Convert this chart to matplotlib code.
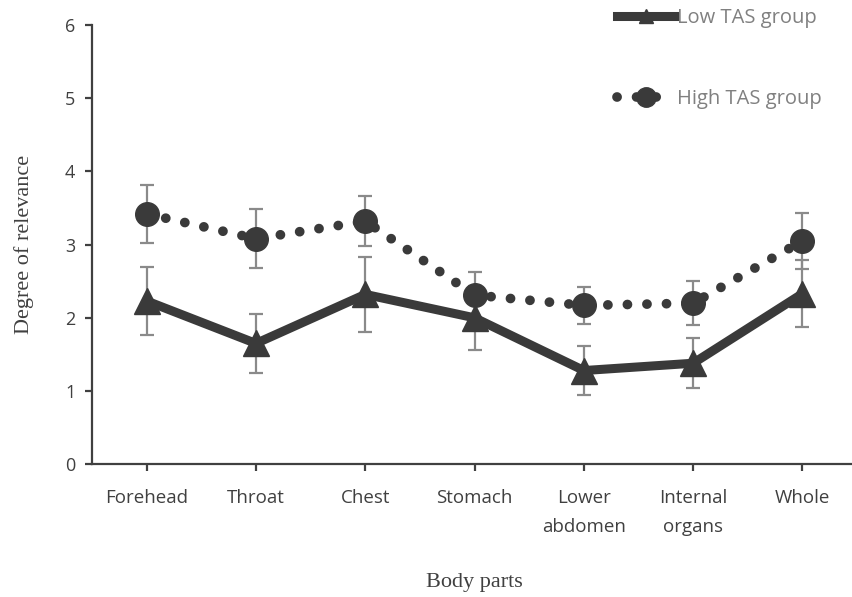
import matplotlib
matplotlib.use("Agg")
import matplotlib.pyplot as plt
from matplotlib.lines import Line2D

categories = ["Forehead", "Throat", "Chest", "Stomach", "Lower\nabdomen", "Internal\norgans", "Whole"]
low_mean = [2.23, 1.65, 2.32, 2.00, 1.28, 1.38, 2.33]
low_err = [0.47, 0.40, 0.51, 0.44, 0.34, 0.34, 0.46]
high_mean = [3.42, 3.08, 3.32, 2.31, 2.17, 2.20, 3.05]
high_err = [0.40, 0.40, 0.34, 0.32, 0.25, 0.30, 0.38]
yticks = [0, 1, 2, 3, 4, 5, 6]

dark = "#3a3a3a"
grey = "#8a8a8a"
txt = "#404040"
tick_font = "Open Sans"

fig = plt.figure(figsize=(8.52, 5.97), dpi=100)
ax = fig.add_axes([0.108, 0.2223, 0.898, 0.736])

x = list(range(len(categories)))

ax.errorbar(x, high_mean, yerr=high_err, fmt="none", ecolor=grey, elinewidth=1.6,
            capsize=5, capthick=1.6, zorder=2)
ax.errorbar(x, low_mean, yerr=low_err, fmt="none", ecolor=grey, elinewidth=1.6,
            capsize=5, capthick=1.6, zorder=2)

ax.plot(x, high_mean, color=dark, lw=7, linestyle=(0, (0.01, 2.0)),
        dash_capstyle="round", zorder=3)
ax.plot(x, high_mean, linestyle="none", marker="o", markersize=17, color=dark, zorder=4)
ax.plot(x, low_mean, color=dark, lw=6.5, solid_capstyle="butt", zorder=3)
ax.plot(x, low_mean, linestyle="none", marker="^", markersize=18.5, color=dark, zorder=4)

ax.set_xlim(-0.5, len(categories) - 0.5)
ax.set_ylim(0, 6)
ax.set_yticks(yticks)
ax.set_yticklabels([str(v) for v in yticks], fontsize=13, color=txt, family=tick_font)
ax.set_xticks(x)
ax.set_xticklabels(categories, fontsize=13.5, color=txt, family=tick_font, linespacing=1.75)

for s in ["top", "right"]:
    ax.spines[s].set_visible(False)
for s in ["left", "bottom"]:
    ax.spines[s].set_color(txt)
    ax.spines[s].set_linewidth(1.6)
ax.tick_params(axis="both", direction="out", length=5, width=1.6, color=txt)
ax.tick_params(axis="x", pad=13)
ax.tick_params(axis="y", pad=7)

ax.set_ylabel("Degree of relevance", family="Liberation Serif", fontsize=16, color=txt,
              labelpad=22)
ax.set_xlabel("Body parts", family="Liberation Serif", fontsize=16, color=txt, labelpad=27)

h_low = Line2D([], [], color=dark, lw=6.5, marker="^", markersize=10)
h_high = Line2D([], [], color=dark, lw=7, linestyle=(0, (0.01, 2.0)), dash_capstyle="round",
                marker="o", markersize=14)
leg = fig.legend([h_low, h_high], ["Low TAS group", "High TAS group"],
                 loc="upper left", bbox_to_anchor=(617 / 852, 1 - 8 / 597),
                 frameon=False, handlelength=2.9, handletextpad=0.1,
                 labelspacing=3.05, borderpad=0, borderaxespad=0,
                 prop={"family": tick_font, "size": 14.5})
for t in leg.get_texts():
    t.set_color("#808080")

fig.savefig("out.png", dpi=100)
